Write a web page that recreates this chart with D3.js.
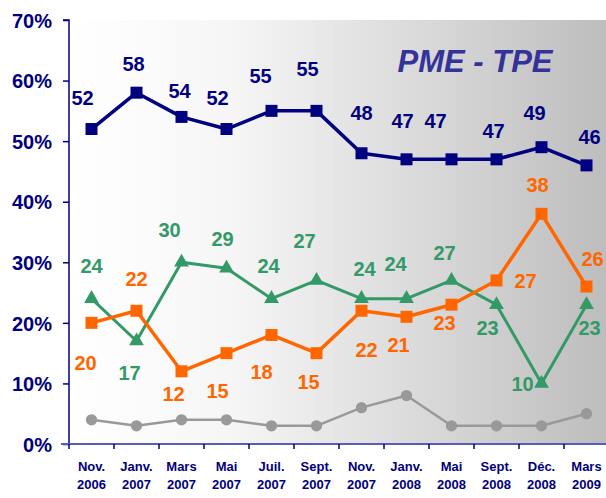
<!DOCTYPE html>
<html>
<head>
<meta charset="utf-8">
<script src="https://cdn.jsdelivr.net/npm/d3@7/dist/d3.min.js"></script>
<style>
  body { margin: 0; background: #fff; }
  svg { display: block; font-family: Arial, "Liberation Sans", sans-serif; }
</style>
</head>
<body>
<div id="chart"></div>
<script>
// Chart data.
const months = ["Nov.", "Janv.", "Mars", "Mai", "Juil.", "Sept.", "Nov.", "Janv.", "Mai", "Sept.", "Déc.", "Mars"];
const years = ["2006", "2007", "2007", "2007", "2007", "2007", "2007", "2008", "2008", "2008", "2008", "2009"];
const navyValues = [52, 58, 54, 52, 55, 55, 48, 47, 47, 47, 49, 46];
const orangeValues = [20, 22, 12, 15, 18, 15, 22, 21, 23, 27, 38, 26];
const greenValues = [24, 17, 30, 29, 24, 27, 24, 24, 27, 23, 10, 23];
const greyValues = [4, 3, 4, 4, 3, 3, 6, 8, 3, 3, 3, 5];
const yTicks = [0, 10, 20, 30, 40, 50, 60, 70];

// Where each value label sits relative to its marker (pixels).
const navyLabelOffsets = [[-9,-31],[-3,-29],[-2,-26],[-9,-31],[-11,-35],[-9,-42],[0,-40],[-4,-39],[-16,-39],[-3,-29],[-7,-34],[3,-29]];
const orangeLabelOffsets = [[-6,40],[0,-32],[-8,22],[-9,38],[-10,37],[-8,29],[5,39],[-8,28],[-7,18],[29,0],[-4,-29],[6,-28]];
const greenLabelOffsets = [[0,-33],[-7,32],[-12,-32],[-4,-30],[-3,-33],[-12,-40],[3,-30],[-11,-35],[-7,-28],[-9,23],[-19,0],[3,23]];

const width = 606, height = 498;
const plotLeft = 69, plotRight = 609, plotTop = 20, plotBottom = 444;

const svg = d3.select("#chart").append("svg")
  .attr("width", width)
  .attr("height", height);

const x = d3.scaleBand()
  .domain(d3.range(months.length))
  .range([plotLeft, plotRight])
  .paddingInner(0)
  .paddingOuter(0);

const y = d3.scaleLinear()
  .domain([0, 70])
  .range([plotBottom, plotTop]);

// Grey gradient behind the plot.
const grad = svg.append("defs").append("linearGradient")
  .attr("id", "bg")
  .attr("x1", "0%").attr("x2", "100%")
  .attr("y1", "0%").attr("y2", "0%");
[[0, "#ffffff"], [0.3, "#f6f6f6"], [0.55, "#e2e2e2"], [0.75, "#d2d2d2"], [1, "#bdbdbd"]]
  .forEach(s => grad.append("stop").attr("offset", s[0]).attr("stop-color", s[1]));

svg.append("rect")
  .attr("x", plotLeft)
  .attr("y", plotTop)
  .attr("width", width - plotLeft)
  .attr("height", plotBottom - plotTop)
  .attr("fill", "url(#bg)");

// Title
svg.append("text")
  .attr("x", 475)
  .attr("y", 72)
  .attr("text-anchor", "middle")
  .style("font-size", "31px")
  .style("font-weight", "bold")
  .style("font-style", "italic")
  .style("fill", "#333399")
  .text("PME - TPE");

// Y axis
const yAxis = svg.append("g")
  .attr("transform", "translate(" + plotLeft + ",0)")
  .call(d3.axisLeft(y)
    .tickValues(yTicks)
    .tickSize(6)
    .tickPadding(11)
    .tickFormat(d => d + "%"));
yAxis.select(".domain").attr("stroke", "#000080").attr("stroke-width", 1.5)
  .attr("d", "M-6," + plotTop + "H0V" + plotBottom);
yAxis.selectAll(".tick line").attr("stroke", "#000080").attr("stroke-width", 1.5);
yAxis.selectAll(".tick text")
  .attr("dy", "0.36em")
  .style("font-size", "20px")
  .style("font-weight", "bold")
  .style("fill", "#000080")
  .style("font-family", "Arial, 'Liberation Sans', sans-serif");

// X axis: line, ticks on band boundaries, two-line labels.
const xAxis = svg.append("g");
xAxis.append("line")
  .attr("x1", plotLeft - 8).attr("x2", width)
  .attr("y1", plotBottom).attr("y2", plotBottom)
  .attr("stroke", "#5c5cb8")
  .attr("stroke-width", 2);
xAxis.selectAll(".xtick")
  .data(d3.range(months.length))
  .enter().append("line")
  .attr("x1", d => x(d)).attr("x2", d => x(d))
  .attr("y1", plotBottom).attr("y2", plotBottom + 5)
  .attr("stroke", "#000080")
  .attr("stroke-width", 1.5);
const xLabels = xAxis.selectAll(".xlabel")
  .data(d3.range(months.length))
  .enter().append("text")
  .attr("text-anchor", "middle")
  .style("font-size", "13px")
  .style("font-weight", "bold")
  .style("fill", "#000080");
xLabels.append("tspan")
  .attr("x", d => x(d) + x.bandwidth() / 2)
  .attr("y", 471)
  .text(d => months[d]);
xLabels.append("tspan")
  .attr("x", d => x(d) + x.bandwidth() / 2)
  .attr("y", 489)
  .text(d => years[d]);

const cx = i => x(i) + x.bandwidth() / 2;

function drawSeries(values, color, lineWidth, marker, offsets) {
  const g = svg.append("g");
  g.append("path")
    .datum(values)
    .attr("fill", "none")
    .attr("stroke", color)
    .attr("stroke-width", lineWidth)
    .attr("stroke-linejoin", "round")
    .attr("d", d3.line().x((d, i) => cx(i)).y(d => y(d)));

  g.selectAll(".marker")
    .data(values)
    .enter().append("path")
    .attr("transform", (d, i) => "translate(" + cx(i) + "," + y(d) + ")")
    .attr("d", marker)
    .attr("fill", color);

  if (offsets) {
    g.selectAll(".label")
      .data(values)
      .enter().append("text")
      .attr("x", (d, i) => cx(i) + offsets[i][0])
      .attr("y", (d, i) => y(d) + offsets[i][1])
      .attr("dy", "0.36em")
      .attr("text-anchor", "middle")
      .style("font-size", "20px")
      .style("font-weight", "bold")
      .style("fill", color)
      .text(d => d);
  }
}

const square = d3.symbol().type(d3.symbolSquare).size(144)();
const triangle = d3.symbol().type(d3.symbolTriangle).size(95)();
const circle = d3.symbol().type(d3.symbolCircle).size(100)();

drawSeries(greyValues, "#999999", 2.5, circle, null);
drawSeries(greenValues, "#339966", 3, triangle, greenLabelOffsets);
drawSeries(orangeValues, "#ff6600", 3.5, square, orangeLabelOffsets);
drawSeries(navyValues, "#000080", 3.5, square, navyLabelOffsets);
</script>
</body>
</html>
